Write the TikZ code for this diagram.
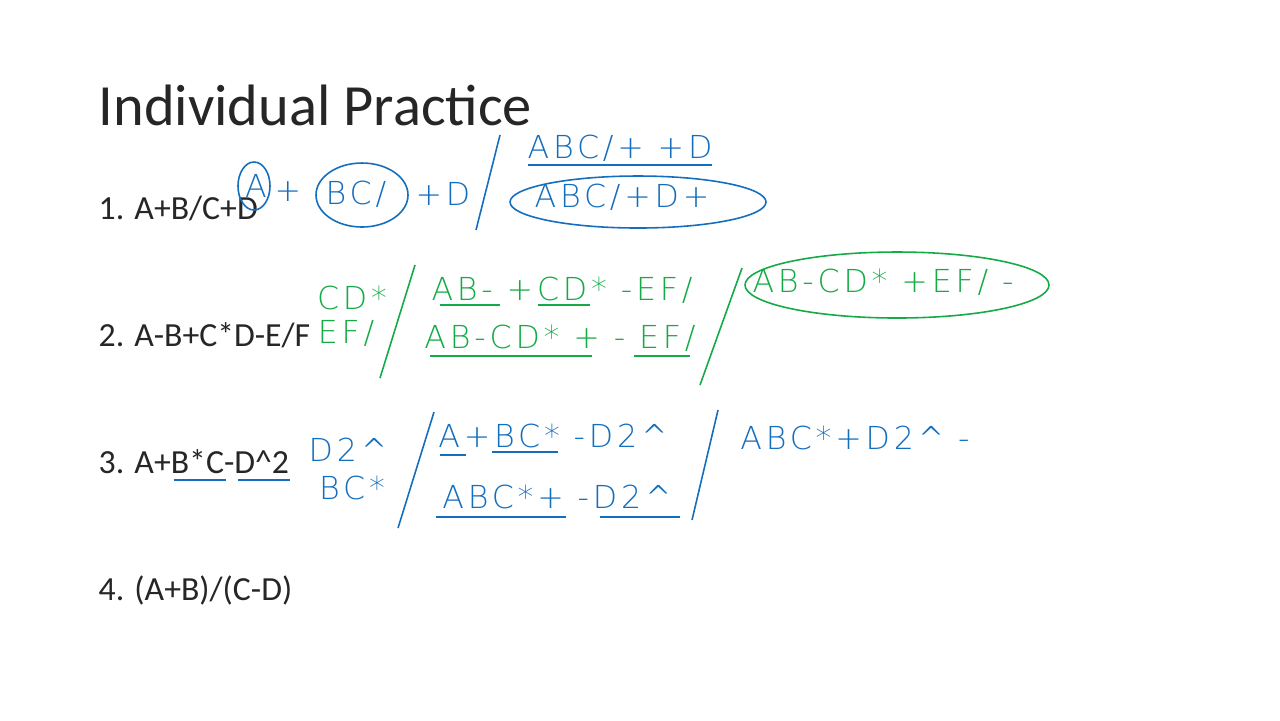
\documentclass[tikz,border=0pt]{standalone}
\usepackage{fontspec}
\usetikzlibrary{shapes.geometric}
\setmainfont{Carlito}
\newfontfamily\hand{DejaVu Sans ExtraLight}[LetterSpace=12]
\definecolor{inkb}{RGB}{20,110,190}
\definecolor{inkg}{RGB}{20,170,70}
\tikzset{
  item/.style={anchor=west,font=\fontsize{9.6pt}{10pt}\selectfont,text=black!85,inner sep=0},
  hb/.style={font=\hand\fontsize{9pt}{10pt}\selectfont,text=inkb,inner sep=0},
  hg/.style={font=\hand\fontsize{9pt}{10pt}\selectfont,text=inkg,inner sep=0},
  pb/.style={draw=inkb,line width=0.45pt},
  pg/.style={draw=inkg,line width=0.45pt}
}
\begin{document}
\begin{tikzpicture}[x=0.01cm,y=-0.01cm]
\useasboundingbox[fill=white] (0,0) rectangle (1280,720);
\node[anchor=west,inner sep=0,font=\fontsize{16.6pt}{18pt}\selectfont,text=black!85] (title) at (98,105) {Individual Practice};
\node[item] (i1) at (98,208) {1. A+B/C+D};
\node[item] (i2) at (98,335) {2. A-B+C*D-E/F};
\node[item] (i3) at (98,462) {3. A+B*C-D\textasciicircum 2};
\node[item] (i4) at (98,590) {4. (A+B)/(C-D)};
% row 1
\node[hb] (r1A) at (256,186) {A};
\node[hb] (r1p) at (288,192) {+};
\node[hb] (r1bc) at (356,194) {BC/};
\node[hb] (r1d) at (443,194) {+D};
\draw[pb] (254,186) ellipse (16 and 24);
\draw[pb] (362,195) ellipse (46 and 32);
\draw[pb] (500,135) -- (476,230);
\node[hb] (r1b) at (620,148) {ABC/+ +D};
\draw[pb] (528,165) -- (712,165);
\node[hb] (r1c) at (622,197) {ABC/+D+};
\draw[pb] (638,202) ellipse (128 and 26);
% row 2
\node[hg] (g1) at (352,298) {CD*};
\node[hg] (g2) at (346,333) {EF/};
\draw[pg] (415,265) -- (380,378);
\node[hg] (g3) at (562,290) {AB- +CD* -EF/};
\draw[pg] (440,305) -- (500,305); \draw[pg] (538,305) -- (590,305);
\node[hg] (g4) at (560,338) {AB-CD* + - EF/};
\draw[pg] (430,356) -- (592,356); \draw[pg] (634,356) -- (690,356);
\draw[pg] (742,268) -- (700,385);
\node[hg] (g5) at (883,282) {AB-CD* +EF/ -};
\draw[pg] (897,285) ellipse (152 and 33);
% row 3
\node[hb] (b1) at (348,450) {D2\^{}};
\node[hb] (b2) at (352,488) {BC*};
\draw[pb] (434,412) -- (398,528);
\node[hb] (b3) at (553,436) {A+BC* -D2\^{}};
\draw[pb] (440,455) -- (466,455); \draw[pb] (492,452) -- (558,452);
\node[hb] (b4) at (557,497) {ABC*+ -D2\^{}};
\draw[pb] (436,517) -- (566,517); \draw[pb] (600,517) -- (680,517);
\draw[pb] (718,410) -- (692,520);
\node[hb] (b5) at (855,438) {ABC*+D2\^{} -};
\draw[pb] (174,480) -- (226,480); \draw[pb] (238,480) -- (290,480);
\end{tikzpicture}
\end{document}
